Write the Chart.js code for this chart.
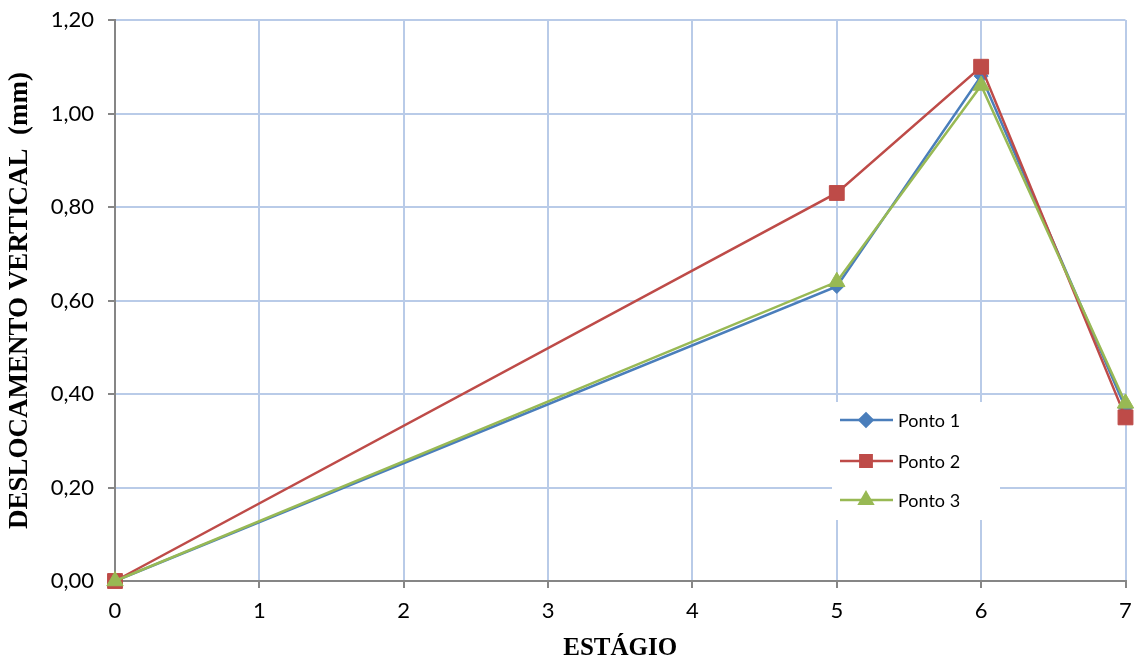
<!DOCTYPE html>
<html>
<head>
<meta charset="utf-8">
<script src="https://cdn.jsdelivr.net/npm/chart.js@4/dist/chart.umd.min.js"></script>
<style>
  html, body { margin: 0; padding: 0; background: #fff; }
  #wrap { width: 1137px; height: 668px; }
</style>
</head>
<body>
<div id="wrap"><canvas id="chart" width="1137" height="668"></canvas></div>
<script>
  // data
  const stages = [0, 5, 6, 7];
  const ponto1 = [0, 0.63, 1.08, 0.37];
  const ponto2 = [0, 0.83, 1.10, 0.35];
  const ponto3 = [0, 0.64, 1.06, 0.38];
  const seriesNames = ['Ponto 1', 'Ponto 2', 'Ponto 3'];
  const xTitle = 'ESTÁGIO';
  const yTitle = 'DESLOCAMENTO VERTICAL  (mm)';

  const colors = ['#4a7ebb', '#be4b48', '#98b954'];
  const shapes = ['rectRot', 'rect', 'triangle'];
  const radii = [7, 10.5, 9.5];
  const legendRadii = [6.5, 8, 7.5];

  function pts(vals) {
    return vals.map((v, i) => ({ x: stages[i], y: v }));
  }

  const gridColor = '#b9cbe8';
  const axisColor = '#868686';
  const tickFont = { family: 'Lato, sans-serif', size: 22 };

  /* legend drawn inside plot area, like the Excel original */
  const boxLegend = {
    id: 'boxLegend',
    afterDatasetsDraw(chart) {
      const ctx = chart.ctx;
      const x0 = 832, y0 = 402, w = 168, h = 118;
      ctx.save();
      ctx.fillStyle = '#fff';
      ctx.fillRect(x0, y0, w, h);
      const rows = [420, 461, 500];
      rows.forEach((ry, i) => {
        ctx.strokeStyle = colors[i];
        ctx.fillStyle = colors[i];
        ctx.lineWidth = 2.5;
        ctx.beginPath();
        ctx.moveTo(840, ry);
        ctx.lineTo(893, ry);
        ctx.stroke();
        Chart.helpers.drawPoint(ctx, {
          pointStyle: shapes[i], radius: legendRadii[i], rotation: 0, borderWidth: 1
        }, 866, ry);
        ctx.fillStyle = '#000';
        ctx.font = '18px Lato, sans-serif';
        ctx.textBaseline = 'middle';
        ctx.textAlign = 'left';
        ctx.fillText(seriesNames[i], 898, ry + 1);
      });
      ctx.restore();
    }
  };

  const allSeries = [ponto1, ponto2, ponto3];

  new Chart(document.getElementById('chart').getContext('2d'), {
    type: 'line',
    data: {
      datasets: allSeries.map((s, i) => ({
        label: seriesNames[i],
        data: pts(s),
        borderColor: colors[i],
        backgroundColor: colors[i],
        borderWidth: 2.5,
        pointStyle: shapes[i],
        pointRadius: radii[i],
        pointHoverRadius: radii[i],
        pointBorderWidth: 1,
        tension: 0,
        clip: false,
        order: 3 - i
      }))
    },
    options: {
      responsive: false,
      animation: false,
      layout: { padding: { top: 20, right: 10, left: 0, bottom: 0 } },
      plugins: {
        legend: { display: false },
        tooltip: { enabled: false }
      },
      scales: {
        x: {
          type: 'linear',
          min: 0,
          max: 7,
          afterFit: s => { s.height = 87; s.paddingLeft = 0; s.paddingRight = 0; },
          ticks: { stepSize: 1, font: tickFont, color: '#000', padding: 10 },
          grid: { color: gridColor, lineWidth: 2, tickColor: axisColor, tickLength: 7, tickWidth: 2 },
          border: { color: axisColor, width: 2 },
          title: {
            display: true, text: xTitle, color: '#000',
            font: { family: '"Liberation Serif", serif', size: 25, weight: 'bold' },
            padding: { top: 4 }
          }
        },
        y: {
          min: 0,
          max: 1.2,
          afterFit: s => { s.width = 115; s.paddingTop = 0; s.paddingBottom = 0; },
          ticks: {
            stepSize: 0.2, font: tickFont, color: '#000', padding: 14,
            callback: v => v.toFixed(2).replace('.', ',')
          },
          grid: { color: gridColor, lineWidth: 2, tickColor: axisColor, tickLength: 7, tickWidth: 2 },
          border: { color: axisColor, width: 2 },
          title: {
            display: true, text: yTitle, color: '#000',
            font: { family: '"Liberation Serif", serif', size: 27, weight: 'bold' },
            padding: { bottom: 0 }
          }
        }
      }
    },
    plugins: [boxLegend]
  });
</script>
</body>
</html>
